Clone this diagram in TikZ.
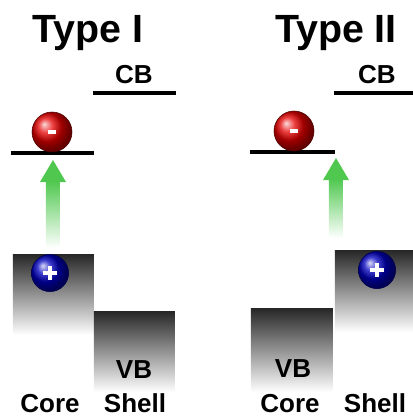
\documentclass[tikz,border=0pt]{standalone}
\usepackage{fontspec}
\setmainfont{Liberation Sans}
\definecolor{arrowgreen}{RGB}{80,200,80}
\begin{document}
\begin{tikzpicture}[x=0.025cm,y=-0.025cm,
	ttl/.style={anchor=base,font=\bfseries\fontsize{28}{32}\selectfont},
	lbl/.style={anchor=base,font=\bfseries\fontsize{18.5}{22}\selectfont},
	level/.style={line width=2.8pt},
	band/.style={top color=black!85,middle color=black!30,bottom color=white},
	sign/.style={white,line width=2.8pt},
	elec/.style={circle,minimum size=1cm,inner sep=0pt,ball color=red!90!black,draw=red!30!black},
	hole/.style={circle,minimum size=0.93cm,inner sep=0pt,ball color=blue!75!black,draw=blue!30!black}]
	\useasboundingbox (0,0) rectangle (413,417);
	% Type I
	\node[ttl] (t1) at (88,42) {Type I};
	\node[lbl] (cb1) at (134,83) {CB};
	\draw[level] (93,93) coordinate (cbl1) -- (176,93) coordinate (cbr1);
	\draw[level] (11,153) coordinate (cl1) -- (94,153) coordinate (cr1);
	\shade[band] (13,254) rectangle (94,335);
	\shade[band] (94,311) rectangle (175,392);
	\fill[arrowgreen] (53,160) -- (40,182) -- (66,182) -- cycle;
	\shade[top color=arrowgreen,bottom color=white] (46,181) rectangle (60,248);
	\node[elec] (e1) at (52,132) {};
	\draw[sign] (e1.center) +(-4,0) -- +(4,0);
	\node[hole] (h1) at (50,273) {};
	\draw[sign] (h1.center) +(-7,0) -- +(7,0) (h1.center) +(0,-7) -- +(0,7);
	\node[lbl] (vb1) at (134,378) {VB};
	\node[lbl] (core1) at (50,412) {Core};
	\node[lbl] (shell1) at (135,412) {Shell};
	% Type II
	\node[ttl] (t2) at (336,42) {Type II};
	\node[lbl] (cb2) at (377,83) {CB};
	\draw[level] (334,93) coordinate (cbl2) -- (413,93) coordinate (cbr2);
	\draw[level] (250,152) coordinate (cl2) -- (335,152) coordinate (cr2);
	\shade[band] (251,308) rectangle (333,392);
	\shade[band] (335,250) rectangle (413,332);
	\fill[arrowgreen] (336,158) -- (323,180) -- (349,180) -- cycle;
	\shade[top color=arrowgreen,bottom color=white] (329,179) rectangle (343,238);
	\node[elec] (e2) at (294,131) {};
	\draw[sign] (e2.center) +(-4,0) -- +(4,0);
	\node[hole] (h2) at (377,270) {};
	\draw[sign] (h2.center) +(-7,0) -- +(7,0) (h2.center) +(0,-7) -- +(0,7);
	\node[lbl] (vb2) at (293,377) {VB};
	\node[lbl] (core2) at (290,412) {Core};
	\node[lbl] (shell2) at (375,412) {Shell};
\end{tikzpicture}
\end{document}
